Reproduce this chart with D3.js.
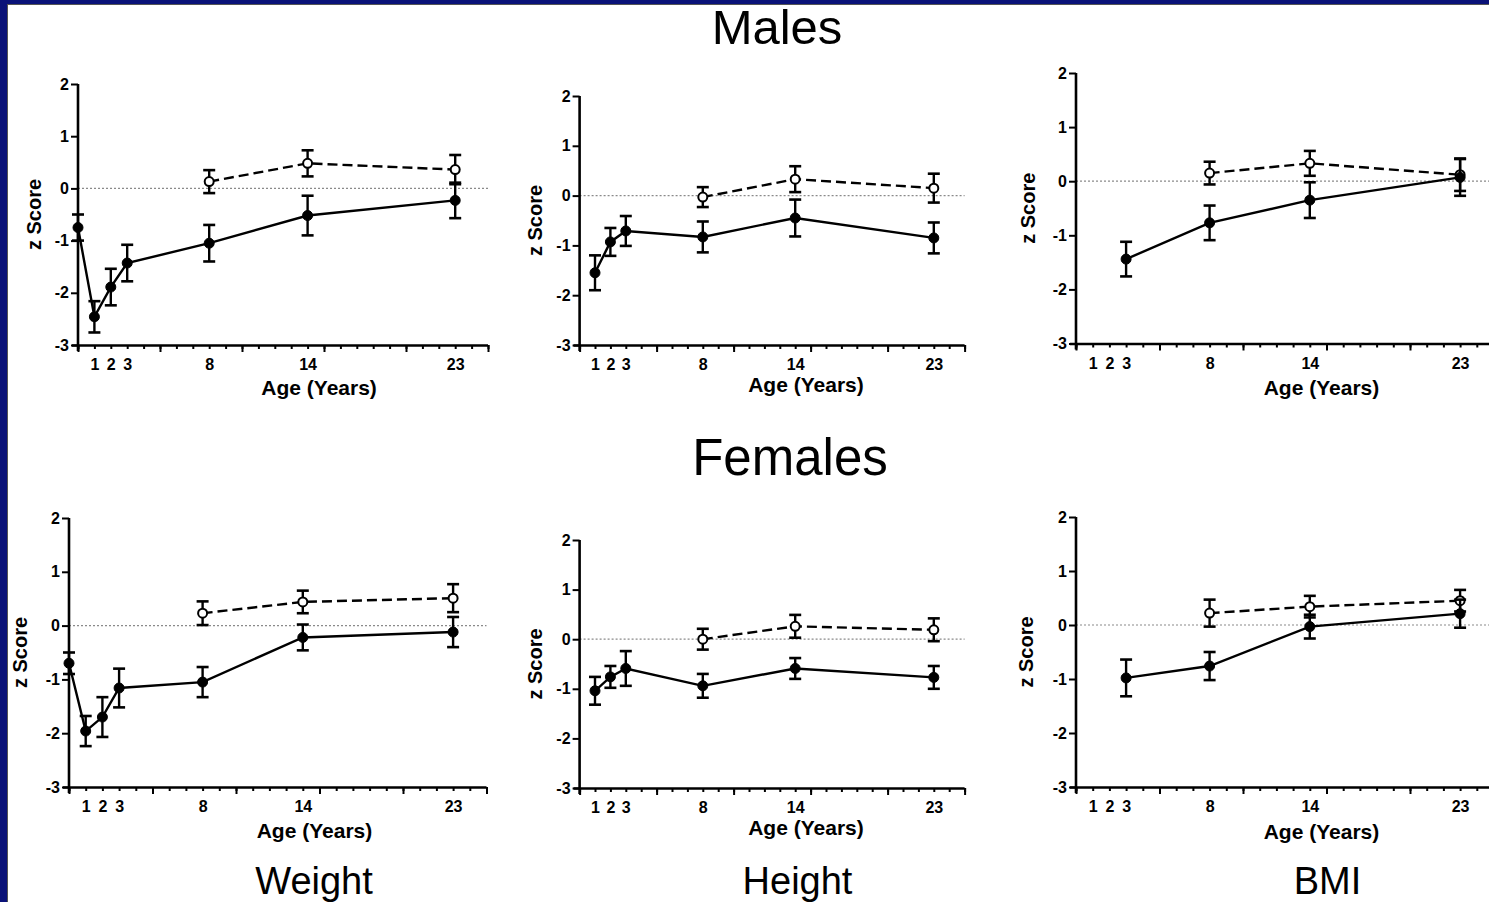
<!DOCTYPE html>
<html>
<head>
<meta charset="utf-8">
<script src="https://cdn.jsdelivr.net/npm/d3@7/dist/d3.min.js"></script>
<style>
  html, body { margin: 0; padding: 0; background: #0a1278; }
  svg { display: block; }
  text { font-family: "Liberation Sans", Arial, Helvetica, sans-serif; fill: #000; }
</style>
</head>
<body>
<svg id="chart" width="1489" height="902"></svg>
<script>
// ---------------- DATA ----------------
const rowTitles = ["Males", "Females"];
const colTitles = ["Weight", "Height", "BMI"];
const yTicks = [-3, -2, -1, 0, 1, 2];
const xTickLabels = [1, 2, 3, 8, 14, 23];
const yTitle = "z Score";
const xTitle = "Age (Years)";

const agesWeight = [0, 1, 2, 3, 8, 14, 23];
const agesHeight = [1, 2, 3, 8, 14, 23];
const agesBMI = [3, 8, 14, 23];
const agesControl = [8, 14, 23];

// Males
const maleWeight = [-0.75, -2.46, -1.89, -1.43, -1.05, -0.52, -0.23];
const maleWeightErr = [0.25, 0.30, 0.35, 0.35, 0.35, 0.38, 0.34];
const maleWeightCtrl = [0.13, 0.48, 0.36];
const maleWeightCtrlErr = [0.22, 0.25, 0.28];

const maleHeight = [-1.55, -0.93, -0.71, -0.83, -0.45, -0.85];
const maleHeightErr = [0.35, 0.28, 0.30, 0.31, 0.37, 0.31];
const maleHeightCtrl = [-0.03, 0.33, 0.15];
const maleHeightCtrlErr = [0.20, 0.26, 0.29];

const maleBMI = [-1.44, -0.77, -0.35, 0.07];
const maleBMIErr = [0.32, 0.32, 0.33, 0.34];
const maleBMICtrl = [0.15, 0.33, 0.12];
const maleBMICtrlErr = [0.21, 0.23, 0.30];

// Females
const femaleWeight = [-0.70, -1.96, -1.70, -1.16, -1.05, -0.22, -0.12];
const femaleWeightErr = [0.20, 0.28, 0.37, 0.36, 0.28, 0.24, 0.28];
const femaleWeightCtrl = [0.23, 0.44, 0.51];
const femaleWeightCtrlErr = [0.22, 0.21, 0.26];

const femaleHeight = [-1.04, -0.76, -0.59, -0.94, -0.59, -0.77];
const femaleHeightErr = [0.28, 0.22, 0.35, 0.24, 0.21, 0.23];
const femaleHeightCtrl = [0.00, 0.26, 0.19];
const femaleHeightCtrlErr = [0.21, 0.23, 0.23];

const femaleBMI = [-0.98, -0.76, -0.03, 0.21];
const femaleBMIErr = [0.34, 0.26, 0.22, 0.26];
const femaleBMICtrl = [0.22, 0.34, 0.45];
const femaleBMICtrlErr = [0.25, 0.20, 0.20];

// ---------------- LAYOUT ----------------
const panelLayout = [
  { x0: 78,    x1: 488,    yTop: 84,  yBot: 345, yTitleOff: -37, xTitleOff: 50 },
  { x0: 579.6, x1: 964.6,  yTop: 96,  yBot: 345, yTitleOff: -38, xTitleOff: 47 },
  { x0: 1076,  x1: 1493.5, yTop: 73,  yBot: 343.5, yTitleOff: -41, xTitleOff: 51 },
  { x0: 69,    x1: 486.5,  yTop: 518, yBot: 787, yTitleOff: -42, xTitleOff: 51 },
  { x0: 579.6, x1: 964.6,  yTop: 540, yBot: 788, yTitleOff: -38, xTitleOff: 47 },
  { x0: 1076,  x1: 1493.5, yTop: 517, yBot: 787, yTitleOff: -43, xTitleOff: 52 }
];

const panelData = [
  { ages: agesWeight, v: maleWeight, e: maleWeightErr, cv: maleWeightCtrl, ce: maleWeightCtrlErr },
  { ages: agesHeight, v: maleHeight, e: maleHeightErr, cv: maleHeightCtrl, ce: maleHeightCtrlErr },
  { ages: agesBMI, v: maleBMI, e: maleBMIErr, cv: maleBMICtrl, ce: maleBMICtrlErr },
  { ages: agesWeight, v: femaleWeight, e: femaleWeightErr, cv: femaleWeightCtrl, ce: femaleWeightCtrlErr },
  { ages: agesHeight, v: femaleHeight, e: femaleHeightErr, cv: femaleHeightCtrl, ce: femaleHeightCtrlErr },
  { ages: agesBMI, v: femaleBMI, e: femaleBMIErr, cv: femaleBMICtrl, ce: femaleBMICtrlErr }
];

const svg = d3.select("#chart");

// background / frame
svg.append("rect").attr("x", 0).attr("y", 0).attr("width", 1489).attr("height", 902).attr("fill", "#0a1278");
svg.append("rect").attr("x", 7).attr("y", 4).attr("width", 1482).attr("height", 898).attr("fill", "#555");
svg.append("rect").attr("x", 8).attr("y", 5).attr("width", 1481).attr("height", 897).attr("fill", "#fff");

// row / column titles
svg.append("text").attr("x", 777).attr("y", 44).attr("text-anchor", "middle")
  .style("font-size", "49px").text(rowTitles[0]);
svg.append("text").attr("x", 790).attr("y", 475).attr("text-anchor", "middle")
  .style("font-size", "51px").text(rowTitles[1]);
const colCenters = [314, 797.5, 1327.5];
colTitles.forEach((t, i) => {
  svg.append("text").attr("x", colCenters[i]).attr("y", 894).attr("text-anchor", "middle")
    .style("font-size", "38px").text(t);
});

panelLayout.forEach((L, i) => {
  const D = panelData[i];
  const x = d3.scaleLinear().domain([0, 25]).range([L.x0, L.x1]);
  const y = d3.scaleLinear().domain([-3, 2]).range([L.yBot, L.yTop]);
  const g = svg.append("g");

  // zero reference line
  g.append("line")
    .attr("x1", x(0)).attr("x2", x(25))
    .attr("y1", y(0)).attr("y2", y(0))
    .attr("stroke", "#8a8a8a").attr("stroke-width", 1.2)
    .attr("stroke-dasharray", "2,2");

  // x axis: minor ticks, major ticks, labels
  const gxMinor = g.append("g").attr("transform", `translate(0,${y(-3)})`)
    .call(d3.axisBottom(x).tickValues(d3.range(0, 26)).tickSize(4).tickFormat(""));
  const gxMajor = g.append("g").attr("transform", `translate(0,${y(-3)})`)
    .call(d3.axisBottom(x).tickValues([0, 5, 10, 15, 20, 25]).tickSize(7).tickFormat(""));
  const gxLab = g.append("g").attr("transform", `translate(0,${y(-3)})`)
    .call(d3.axisBottom(x).tickValues(xTickLabels).tickSize(0).tickPadding(14).tickFormat(d3.format("d")));
  gxLab.select(".domain").remove();
  gxMinor.select(".domain").remove();
  gxMajor.select(".domain").attr("d", `M${x(0) - 6},0.5H${x(25)}`);
  [gxMinor, gxMajor].forEach(a => a.selectAll("line").attr("stroke", "#000").attr("stroke-width", 2));
  gxMajor.select(".domain").attr("stroke", "#000").attr("stroke-width", 2.6);
  gxLab.selectAll("text").style("font-size", "16px").style("font-weight", "bold")
    .style("font-family", "'Liberation Sans', Arial, sans-serif").attr("fill", "#000");

  // y axis
  const gy = g.append("g").attr("transform", `translate(${x(0)},0)`)
    .call(d3.axisLeft(y).tickValues(yTicks).tickSize(7).tickPadding(2).tickFormat(d3.format("d")));
  gy.select(".domain").attr("stroke", "#000").attr("stroke-width", 2.6)
    .attr("d", `M0,${y(2)}V${y(-3) + 6}`);
  gy.selectAll(".tick line").attr("stroke", "#000").attr("stroke-width", 2);
  gy.selectAll("text").style("font-size", "16px").style("font-weight", "bold")
    .style("font-family", "'Liberation Sans', Arial, sans-serif").attr("fill", "#000")
    .text(d => d < 0 ? "-" + Math.abs(d) : d);

  // axis titles
  g.append("text")
    .attr("transform", `translate(${x(0) + L.yTitleOff},${(y(2) + y(-3)) / 2}) rotate(-90)`)
    .attr("text-anchor", "middle")
    .style("font-size", "20px").style("font-weight", "bold").text(yTitle);
  g.append("text")
    .attr("x", x(14.7)).attr("y", y(-3) + L.xTitleOff)
    .attr("text-anchor", "middle")
    .style("font-size", "21px").style("font-weight", "bold").text(xTitle);

  // series builder
  const drawSeries = (ages, vals, errs, dashed, open) => {
    const pts = ages.map((a, k) => ({ a, v: vals[k], e: errs[k] }));
    const line = d3.line().x(d => x(d.a)).y(d => y(d.v));
    g.append("path").datum(pts).attr("d", line)
      .attr("fill", "none").attr("stroke", "#000").attr("stroke-width", 2.4)
      .attr("stroke-dasharray", dashed ? "10,5" : null);
    const eb = g.append("g");
    pts.forEach(d => {
      eb.append("line").attr("x1", x(d.a)).attr("x2", x(d.a))
        .attr("y1", y(d.v - d.e)).attr("y2", y(d.v + d.e))
        .attr("stroke", "#000").attr("stroke-width", 2.4);
      [d.v - d.e, d.v + d.e].forEach(vv => {
        eb.append("line").attr("x1", x(d.a) - 6).attr("x2", x(d.a) + 6)
          .attr("y1", y(vv)).attr("y2", y(vv))
          .attr("stroke", "#000").attr("stroke-width", 2.6);
      });
    });
    g.append("g").selectAll("circle").data(pts).join("circle")
      .attr("cx", d => x(d.a)).attr("cy", d => y(d.v))
      .attr("r", open ? 4.5 : 5)
      .attr("fill", open ? "#fff" : "#000")
      .attr("stroke", "#000").attr("stroke-width", open ? 2 : 1);
  };

  drawSeries(agesControl, D.cv, D.ce, true, true);
  drawSeries(D.ages, D.v, D.e, false, false);
});
</script>
</body>
</html>
